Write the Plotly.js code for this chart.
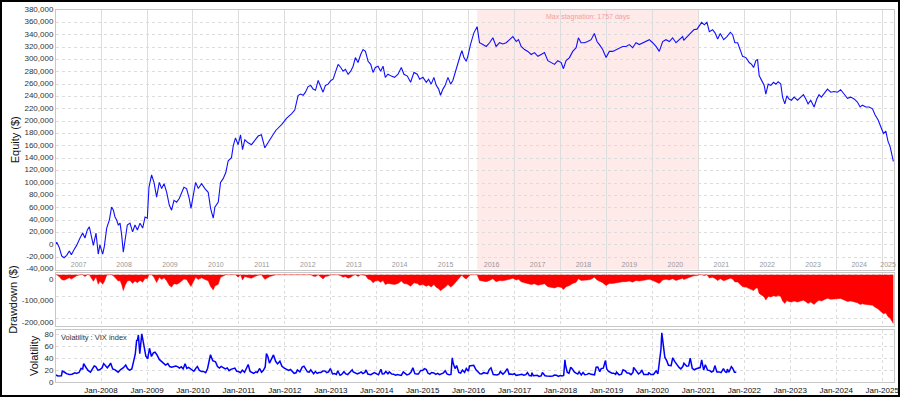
<!DOCTYPE html>
<html><head><meta charset="utf-8">
<script src="https://cdn.plot.ly/plotly-3.0.1.min.js"></script>
<style>
html,body{margin:0;padding:0;background:#fff;}
#wrap{position:relative;width:900px;height:397px;overflow:hidden;}
#chart{position:absolute;left:0;top:0;width:900px;height:397px;}
#frame{position:absolute;left:0;top:0;width:900px;height:397px;box-sizing:border-box;border:2px solid #000;pointer-events:none;}
</style></head><body>
<div id="wrap"><div id="chart"></div><div id="frame"></div></div>
<script>
// ---- Equity curve (time as decimal year, value in thousands of $) ----
const eqYear = [
2007.005,2007.036,2007.094,2007.145,2007.196,2007.254,2007.312,2007.355,2007.413,2007.471,
2007.543,2007.601,2007.652,2007.703,2007.746,2007.797,2007.833,2007.891,2007.942,2007.978,
2008.036,2008.072,2008.123,2008.181,2008.232,2008.268,2008.304,2008.341,2008.377,2008.413,
2008.449,2008.486,2008.522,2008.572,2008.630,2008.688,2008.739,2008.790,2008.848,2008.906,
2008.957,2009.007,2009.043,2009.101,2009.152,2009.210,2009.268,2009.319,2009.370,2009.428,
2009.486,2009.536,2009.587,2009.645,2009.703,2009.754,2009.804,2009.862,2009.920,2009.957,
2010.007,2010.058,2010.116,2010.188,2010.261,2010.333,2010.384,2010.442,2010.478,2010.551,
2010.601,2010.659,2010.717,2010.768,2010.841,2010.877,2010.928,2010.986,2011.036,2011.080,
2011.130,2011.203,2011.275,2011.348,2011.420,2011.493,2011.565,2011.674,2011.804,2011.935,
2012.043,2012.145,2012.217,2012.290,2012.348,2012.399,2012.449,2012.507,2012.565,2012.616,
2012.667,2012.725,2012.783,2012.833,2012.884,2012.942,2013.000,2013.051,2013.101,2013.159,
2013.217,2013.268,2013.319,2013.377,2013.435,2013.486,2013.536,2013.594,2013.652,2013.703,
2013.754,2013.812,2013.870,2013.920,2013.971,2014.029,2014.087,2014.138,2014.188,2014.246,
2014.319,2014.391,2014.464,2014.536,2014.594,2014.667,2014.739,2014.812,2014.884,2014.935,
2015.007,2015.080,2015.130,2015.188,2015.246,2015.297,2015.348,2015.391,2015.442,2015.493,
2015.551,2015.609,2015.659,2015.717,2015.768,2015.826,2015.855,2015.899,2015.949,2015.986,
2016.043,2016.094,2016.116,2016.188,2016.239,2016.312,2016.384,2016.457,2016.529,2016.601,
2016.674,2016.746,2016.819,2016.891,2016.964,2017.036,2017.087,2017.145,2017.217,2017.290,
2017.362,2017.435,2017.507,2017.580,2017.652,2017.725,2017.797,2017.870,2017.942,2018.014,
2018.065,2018.123,2018.196,2018.268,2018.341,2018.391,2018.449,2018.522,2018.594,2018.667,
2018.739,2018.797,2018.848,2018.920,2018.993,2019.065,2019.138,2019.210,2019.283,2019.355,
2019.428,2019.500,2019.572,2019.645,2019.717,2019.790,2019.862,2019.935,2020.007,2020.080,
2020.152,2020.225,2020.297,2020.370,2020.442,2020.514,2020.587,2020.659,2020.681,2020.754,
2020.826,2020.899,2020.971,2021.022,2021.072,2021.130,2021.188,2021.239,2021.312,2021.362,
2021.420,2021.478,2021.551,2021.623,2021.696,2021.746,2021.797,2021.855,2021.913,2021.964,
2022.036,2022.109,2022.159,2022.203,2022.254,2022.290,2022.326,2022.377,2022.435,2022.471,
2022.522,2022.580,2022.638,2022.688,2022.739,2022.797,2022.833,2022.884,2022.928,2022.978,
2023.029,2023.087,2023.159,2023.232,2023.290,2023.341,2023.391,2023.449,2023.522,2023.580,
2023.630,2023.681,2023.739,2023.812,2023.884,2023.957,2024.029,2024.101,2024.174,2024.246,
2024.319,2024.391,2024.464,2024.522,2024.572,2024.645,2024.717,2024.790,2024.848,2024.913,
2024.971,2025.029,2025.080,2025.130,2025.174,2025.203,2025.246
];
const eqValueK = [
0,4,-5,-18,-21,-17,-10,-16,-8,-1,
11,19,11,24,29,11,-1,19,-15,0,
-15,-3,27,40,61,56,45,40,32,35,
16,-12,11,32,35,21,32,24,35,27,
45,43,93,113,101,77,101,91,99,85,
64,56,72,69,75,85,93,91,75,59,
80,101,91,99,91,85,59,43,61,69,
101,107,117,136,141,160,173,162,178,154,
170,165,162,170,176,178,157,170,185,195,
205,212,218,242,244,242,247,256,258,252,
250,266,255,247,258,260,266,268,279,292,
287,281,284,276,281,289,303,295,308,316,
313,297,292,279,287,289,281,289,271,276,
273,271,276,287,276,273,263,279,276,268,
271,263,268,260,271,258,252,242,252,258,
271,260,266,281,297,308,314,303,297,305,
324,337,343,353,327,324,321,327,335,321,
327,325,327,332,337,329,332,321,316,313,
308,311,305,308,311,298,295,292,298,295,
285,298,303,313,319,335,327,327,329,332,
342,329,324,316,303,313,313,316,319,321,
321,324,319,327,324,327,329,332,327,321,
313,329,332,329,335,327,332,337,331,337,
343,348,349,355,360,356,360,345,348,343,
333,342,332,337,344,340,327,327,313,305,
303,295,292,287,298,300,274,266,258,244,
260,258,263,260,264,260,239,228,241,236,
234,239,234,239,243,236,228,234,223,236,
243,239,244,252,247,248,247,251,244,237,
239,236,231,223,226,223,223,220,210,202,
191,180,184,167,159,146,135
];

// ---- VIX index ----
const vixDate = [
'2007-01-03','2007-01-24','2007-02-20','2007-02-27','2007-03-14','2007-04-02','2007-04-24','2007-05-15','2007-06-07','2007-06-20',
'2007-07-10','2007-07-26','2007-08-08','2007-08-16','2007-09-05','2007-09-20','2007-10-09','2007-10-22','2007-11-08','2007-11-20',
'2007-12-07','2007-12-20','2008-01-10','2008-01-22','2008-02-05','2008-02-20','2008-03-10','2008-03-17','2008-04-03','2008-04-22',
'2008-05-16','2008-06-05','2008-06-27','2008-07-15','2008-07-30','2008-08-15','2008-09-02','2008-09-15','2008-09-29','2008-10-10',
'2008-10-17','2008-10-24','2008-11-04','2008-11-20','2008-12-05','2008-12-22','2009-01-06','2009-01-20','2009-02-05','2009-02-20',
'2009-03-05','2009-03-20','2009-04-08','2009-04-24','2009-05-12','2009-05-28','2009-06-15','2009-06-30','2009-07-15','2009-07-31',
'2009-08-17','2009-08-31','2009-09-15','2009-09-30','2009-10-15','2009-10-30','2009-11-13','2009-11-27','2009-12-15','2009-12-24',
'2010-01-08','2010-01-29','2010-02-05','2010-02-19','2010-03-10','2010-03-26','2010-04-12','2010-04-27','2010-05-06','2010-05-20',
'2010-06-07','2010-06-29','2010-07-15','2010-07-30','2010-08-13','2010-08-27','2010-09-15','2010-09-30','2010-10-15','2010-10-29',
'2010-11-16','2010-11-30','2010-12-15','2010-12-30','2011-01-14','2011-01-28','2011-02-15','2011-02-24','2011-03-16','2011-03-31',
'2011-04-15','2011-04-28','2011-05-16','2011-05-27','2011-06-15','2011-06-30','2011-07-15','2011-07-29','2011-08-08','2011-08-19',
'2011-09-01','2011-09-22','2011-10-03','2011-10-20','2011-11-04','2011-11-23','2011-12-09','2011-12-28','2012-01-13','2012-01-31',
'2012-02-15','2012-02-29','2012-03-15','2012-03-30','2012-04-10','2012-04-30','2012-05-18','2012-06-01','2012-06-15','2012-06-29',
'2012-07-13','2012-07-25','2012-08-17','2012-08-31','2012-09-14','2012-09-28','2012-10-15','2012-10-31','2012-11-15','2012-11-30',
'2012-12-14','2012-12-28','2013-01-15','2013-01-31','2013-02-14','2013-02-25','2013-03-15','2013-03-28','2013-04-15','2013-04-30',
'2013-05-15','2013-05-31','2013-06-20','2013-06-28','2013-07-15','2013-07-31','2013-08-15','2013-08-30','2013-09-13','2013-09-30',
'2013-10-08','2013-10-22','2013-11-15','2013-11-29','2013-12-13','2013-12-31','2014-01-15','2014-02-03','2014-02-14','2014-02-28',
'2014-03-14','2014-03-31','2014-04-11','2014-04-30','2014-05-15','2014-05-30','2014-06-16','2014-06-30','2014-07-15','2014-07-31',
'2014-08-08','2014-08-29','2014-09-15','2014-09-30','2014-10-15','2014-10-31','2014-11-14','2014-11-28','2014-12-16','2014-12-31',
'2015-01-15','2015-01-30','2015-02-13','2015-02-27','2015-03-13','2015-03-31','2015-04-15','2015-04-30','2015-05-15','2015-05-29',
'2015-06-15','2015-06-29','2015-07-15','2015-07-31','2015-08-14','2015-08-24','2015-09-01','2015-09-15','2015-09-28','2015-10-15',
'2015-10-30','2015-11-13','2015-11-30','2015-12-14','2015-12-31','2016-01-08','2016-01-20','2016-02-11','2016-02-29','2016-03-15',
'2016-03-31','2016-04-15','2016-04-29','2016-05-13','2016-05-31','2016-06-13','2016-06-27','2016-07-15','2016-07-29','2016-08-15',
'2016-08-31','2016-09-09','2016-09-30','2016-10-14','2016-11-04','2016-11-18','2016-11-30','2016-12-15','2016-12-30','2017-01-13',
'2017-01-31','2017-02-15','2017-02-28','2017-03-15','2017-03-31','2017-04-13','2017-04-28','2017-05-15','2017-05-17','2017-05-31',
'2017-06-15','2017-06-30','2017-07-14','2017-07-31','2017-08-10','2017-08-31','2017-09-15','2017-09-29','2017-10-13','2017-10-31',
'2017-11-15','2017-11-30','2017-12-15','2017-12-29','2018-01-12','2018-01-26','2018-02-05','2018-02-09','2018-02-23','2018-03-09',
'2018-03-23','2018-04-06','2018-04-20','2018-05-04','2018-05-18','2018-05-29','2018-06-15','2018-06-29','2018-07-13','2018-07-31',
'2018-08-15','2018-08-31','2018-09-14','2018-09-28','2018-10-11','2018-10-24','2018-11-09','2018-11-20','2018-12-07','2018-12-24',
'2019-01-04','2019-01-18','2019-02-15','2019-02-28','2019-03-15','2019-03-22','2019-04-12','2019-04-30','2019-05-13','2019-05-31',
'2019-06-14','2019-06-28','2019-07-15','2019-07-31','2019-08-05','2019-08-23','2019-09-13','2019-09-30','2019-10-08','2019-10-25',
'2019-11-15','2019-11-29','2019-12-03','2019-12-20','2020-01-10','2020-01-31','2020-02-14','2020-02-28','2020-03-09','2020-03-16',
'2020-03-27','2020-04-09','2020-04-24','2020-05-08','2020-05-29','2020-06-11','2020-06-26','2020-07-15','2020-07-31','2020-08-14',
'2020-08-31','2020-09-08','2020-09-30','2020-10-15','2020-10-28','2020-11-13','2020-11-30','2020-12-15','2020-12-31','2021-01-15',
'2021-01-27','2021-02-12','2021-02-25','2021-03-15','2021-03-31','2021-04-15','2021-04-30','2021-05-12','2021-05-28','2021-06-15',
'2021-06-30','2021-07-19','2021-07-30','2021-08-13','2021-08-19','2021-08-31','2021-09-20','2021-09-30','2021-10-15','2021-10-29'
];
const vixValue = [
12.0,10.3,10.6,18.3,16.8,14.0,12.5,13.0,15.5,14.5,
16.0,23.0,22.0,30.7,24.0,19.5,16.5,21.5,27.0,26.0,
20.0,20.5,24.0,31.0,28.0,24.0,29.0,32.0,22.0,20.5,
16.5,21.0,24.0,28.5,22.5,20.0,22.0,31.7,46.7,69.9,
70.3,79.1,47.7,80.9,59.9,44.0,39.0,56.7,43.0,49.0,
50.2,45.9,38.0,35.0,32.0,28.5,31.0,26.0,25.0,25.9,
27.0,26.0,23.4,25.6,22.0,30.7,23.0,24.7,21.5,19.5,
18.1,24.6,26.1,20.0,17.6,17.8,15.6,22.8,33.0,45.8,
36.0,34.1,26.0,23.5,26.2,24.5,22.0,23.7,19.0,21.2,
22.6,23.5,17.9,17.5,15.5,20.0,16.4,21.0,29.4,17.7,
15.3,14.6,17.0,15.9,22.7,16.5,19.5,25.3,48.0,43.0,
31.8,41.4,45.5,34.8,30.5,35.0,26.3,23.5,20.9,19.4,
21.0,18.4,14.5,15.5,20.4,17.2,25.1,26.7,21.1,17.1,
16.7,20.5,14.0,17.5,14.5,16.0,16.1,18.6,18.6,15.9,
17.0,22.7,13.5,14.3,12.7,18.9,11.3,12.7,17.3,13.5,
12.4,16.3,20.5,16.9,14.4,13.5,15.1,17.0,14.2,16.6,
20.3,13.3,12.2,13.7,15.8,13.7,12.3,21.4,13.6,14.0,
17.8,13.9,17.0,13.4,13.2,11.4,12.6,11.6,11.0,17.0,
15.8,12.0,13.3,16.3,23.8,14.0,13.3,13.3,19.4,19.2,
22.4,20.9,14.7,13.3,16.0,15.3,12.8,14.6,12.4,13.8,
15.4,18.9,13.2,12.1,12.8,40.7,31.4,22.5,27.6,16.1,
15.1,20.1,16.1,22.7,18.2,27.0,27.6,28.1,20.6,16.8,
13.9,13.6,15.7,15.0,14.2,20.9,23.9,12.7,11.9,11.8,
13.4,17.5,13.3,16.1,22.5,12.9,13.3,12.8,14.0,11.2,
11.9,11.9,12.9,11.6,12.4,16.0,10.8,10.4,15.6,10.4,
10.9,11.2,9.5,10.3,16.0,10.6,10.2,9.5,9.6,10.2,
11.6,11.3,9.4,11.0,10.2,11.1,37.3,29.1,16.5,14.6,
24.9,21.5,16.9,14.8,13.4,17.0,12.0,16.1,12.2,12.8,
14.6,12.9,12.1,12.1,25.0,25.2,17.4,22.5,23.2,36.1,
21.4,17.8,14.9,14.8,12.9,16.5,12.0,13.1,20.6,18.7,
15.3,15.1,12.4,16.1,24.6,19.9,13.7,16.2,20.3,12.7,
12.1,12.6,16.0,12.5,12.6,18.8,13.7,40.1,54.5,82.7,
65.5,41.7,35.9,28.0,27.5,40.8,34.7,27.8,24.5,22.1,
26.4,31.5,26.4,27.0,40.3,23.1,20.6,22.3,22.8,24.3,
37.2,20.0,28.9,20.0,19.4,16.6,18.6,27.6,16.8,17.0,
15.8,22.5,18.2,15.5,21.7,16.5,25.7,23.1,16.3,16.3
];

// ---- Labels / ticks ----
const yearLabels = ['2007','2008','2009','2010','2011','2012','2013','2014','2015','2016','2017','2018','2019','2020','2021','2022','2023','2024','2025'];
const eqTickVals = [-40000,-20000,0,20000,40000,60000,80000,100000,120000,140000,160000,180000,200000,220000,240000,260000,280000,300000,320000,340000,360000,380000];
const eqTickText = ['-40,000','-20,000','0','20,000','40,000','60,000','80,000','100,000','120,000','140,000','160,000','180,000','200,000','220,000','240,000','260,000','280,000','300,000','320,000','340,000','360,000','380,000'];
const ddTickVals = [0,-100000,-200000];
const ddTickText = ['0','-100,000','-200,000'];
const volTickVals = [0,20,40,60,80];
const stagStart = '2016-03-09';
const stagDays = 1757;
const stagLabel = 'Max stagnation: ' + stagDays + ' days';
const vixLegend = 'Volatility : VIX index';

// ---- helpers ----
function decYearToDate(t){
  const y = Math.floor(t);
  const s = Date.UTC(y,0,1), e = Date.UTC(y+1,0,1);
  return new Date(s + (t-y)*(e-s)).toISOString().slice(0,10);
}
const eqDate = eqYear.map(decYearToDate);
const eqValue = eqValueK.map(v => v*1000);
let runMax = -Infinity;
const ddValue = eqValue.map(v => { runMax = Math.max(runMax, v); return v - runMax; });

const xRange = ['2007-01-08','2025-04-05'];
const r0 = Date.parse(xRange[0]), r1 = Date.parse(xRange[1]);
const yearMid = yearLabels.map(y => {
  const s = Math.max(Date.UTC(+y,0,1), r0), e = Math.min(Date.UTC(+y+1,0,1), r1);
  return new Date((s+e)/2).toISOString().slice(0,10);
});
const stagEnd = new Date(Date.parse(stagStart) + stagDays*86400000).toISOString().slice(0,10);
const stagMid = new Date((Date.parse(stagStart) + Date.parse(stagEnd))/2).toISOString().slice(0,10);

const FONT = 'Liberation Sans, Arial, sans-serif';
const gridC = '#dcdcdc', borderC = '#c8c8c8';

const traces = [
  {x: eqDate, y: eqValue, type:'scatter', mode:'lines', line:{color:'#1010ff', width:1.1}, xaxis:'x', yaxis:'y', hoverinfo:'skip'},
  {x: eqDate, y: ddValue, type:'scatter', mode:'lines', fill:'tozeroy', fillcolor:'#ff0000', line:{color:'#ff0000', width:0.5}, xaxis:'x2', yaxis:'y2', hoverinfo:'skip'},
  {x: vixDate, y: vixValue, type:'scatter', mode:'lines', line:{color:'#0000ff', width:1.5}, xaxis:'x3', yaxis:'y3', hoverinfo:'skip'}
];

const commonY = {showline:true, mirror:true, linecolor:borderC, linewidth:1, zeroline:false, ticks:'', gridcolor:gridC, griddash:'dot', tickfont:{size:8, color:'#333'}, automargin:true, ticklabeloverflow:'allow'};
const layout = {
  width:900, height:397,
  margin:{l:56, r:5, t:5, b:15},
  paper_bgcolor:'#ffffff', plot_bgcolor:'#ffffff',
  font:{family:FONT, size:8, color:'#333'},
  showlegend:false,
  xaxis:{domain:[0,1], anchor:'y', type:'date', range:xRange, tickmode:'array', tickvals:yearMid, ticktext:yearLabels,
         ticklabelposition:'inside', ticklabeloverflow:'allow', tickfont:{size:7, color:'#999'}, ticks:'', showgrid:false,
         minor:{tick0:'2007-01-01', dtick:'M12', showgrid:true, gridcolor:'#dddddd', gridwidth:1, ticks:''},
         showline:true, mirror:true, linecolor:borderC, zeroline:false},
  yaxis:Object.assign({}, commonY, {domain:[0.3024,1], range:[-40000,380000], tickmode:'array', tickvals:eqTickVals, ticktext:eqTickText,
         ticklabelshift:-1, title:{text:'Equity ($)', font:{size:11, color:'#111'}, standoff:2}}),
  xaxis2:{domain:[0,1], anchor:'y2', type:'date', matches:'x', showticklabels:false, ticks:'', tick0:'2008-01-01', dtick:'M12',
          gridcolor:gridC, griddash:'dot', showline:true, mirror:true, linecolor:borderC, zeroline:false},
  yaxis2:Object.assign({}, commonY, {domain:[0.1512,0.2918], range:[-235000,6000], tickmode:'array', tickvals:ddTickVals, ticktext:ddTickText,
         ticklabelshift:4, title:{text:'Drawdown ($)', font:{size:11, color:'#111'}, standoff:1}}),
  xaxis3:{domain:[0,1], anchor:'y3', type:'date', matches:'x', tick0:'2008-01-01', dtick:'M12', tickformat:'%b-%Y', ticks:'',
          ticklabeloverflow:'allow', tickfont:{size:8, color:'#111'}, gridcolor:gridC, griddash:'dot', showline:true, mirror:true, linecolor:borderC, zeroline:false},
  yaxis3:Object.assign({}, commonY, {domain:[0,0.1406], range:[0,88], tickmode:'array', tickvals:volTickVals,
         title:{text:'Volatility', font:{size:11, color:'#111'}, standoff:3}}),
  shapes:[{type:'rect', xref:'x', yref:'y domain', x0:stagStart, x1:stagEnd, y0:0, y1:1, fillcolor:'#ffeaea', line:{width:0}, layer:'below'}],
  annotations:[
    {xref:'x', yref:'y domain', x:stagMid, y:1, yanchor:'top', yshift:-1, showarrow:false, text:stagLabel, font:{size:7, color:'#f0a0a0'}},
    {xref:'x3 domain', yref:'y3 domain', x:0.004, y:1, xanchor:'left', yanchor:'top', yshift:-1, showarrow:false, text:vixLegend, font:{size:7.5, color:'#333'}}
  ]
};
Plotly.newPlot('chart', traces, layout, {staticPlot:true, displayModeBar:false});
</script></body></html>
